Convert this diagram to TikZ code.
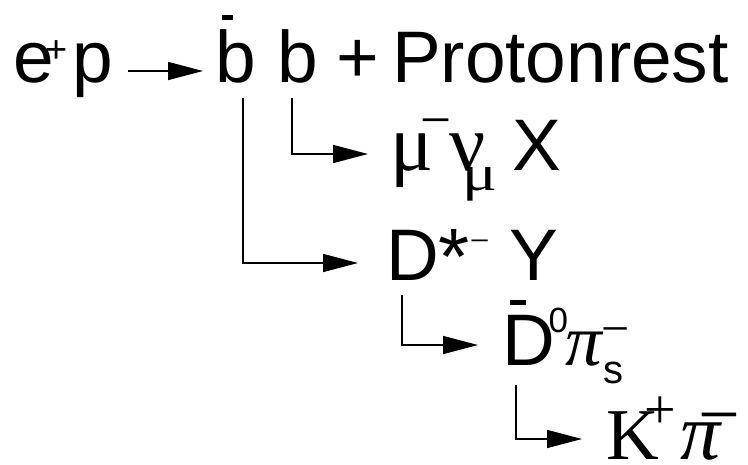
\documentclass[tikz,border=0pt]{standalone}
\usepackage{fontspec}
\setmainfont{Liberation Sans}
\newfontfamily\grk{Liberation Serif}
\usepackage{graphicx}
\usepackage{tikz}
\usetikzlibrary{arrows.meta}
\newcommand{\fsz}[1]{\fontsize{#1}{#1}\selectfont}
\newcommand{\rsup}[3]{\raisebox{#2}{\fsz{#1}#3}}

\begin{document}
\begin{tikzpicture}[x=1pt, y=-1pt,
    every node/.style={font=\fsz{73pt}, inner sep=0pt, outer sep=0pt,
                       anchor=base west},
    arr/.style={-{Triangle[length=35pt, width=18pt]}, line width=1.6pt}]
  \useasboundingbox (0,0) rectangle (748,464);
  % first line
  \node (ep)   at (13,82)    {e\kern-8pt\rsup{38pt}{20pt}{+}\kern5pt p};
  \node (bbar) at (215,82)   {\rlap{\kern7pt\rule[62pt]{11pt}{5pt}}b};
  \node (bq)   at (277,82)   {b};
  \node (plus) at (336.5,82) {+};
  \node (rest) at (392,82)   {Protonrest};
  % decays
  \node (mu)   at (390,170)  {{\grk\fsz{80pt}μ}\kern-12.7pt\rsup{55pt}{32pt}{\grk −}};
  \node (nu)   at (449,170)  {{\grk\fsz{80pt}ν}\kern-23pt\raisebox{-20pt}{\scalebox{1.3}[1]{\grk\fsz{50pt}μ}}};
  \node (xx)   at (512.5,170) {X};
  \node (dst)  at (386,280)  {D\raisebox{-4pt}{\fsz{80pt}*}\rsup{35pt}{28pt}{\grk −}};
  \node (yy)   at (509,280)  {Y};
  \node (dbar) at (502,365)  {\rlap{\kern8pt\rule[60pt]{16pt}{5pt}}D\kern-6pt\rsup{35pt}{33pt}{0}};
  \node (pis)  at (565,365)  {{\grk\itshape π}\rlap{\rsup{50pt}{19.5pt}{\grk −}}\kern2pt\raisebox{-18pt}{\fsz{40pt}s}};
  \node[text depth=0pt] (kk)  at (606.5,459) {{\grk K}\kern-15pt\rsup{56pt}{31pt}{\grk +}};
  \node[text depth=0pt] (pik) at (680,459)   {{\grk\itshape\fsz{80pt}π}\kern-21.5pt\rsup{74pt}{19.5pt}{\grk −}};
  % arrows
  \draw[arr] ([shift={(115pt,11pt)}]ep.base west) -- ([shift={(-12pt,11pt)}]bbar.base west);
  \draw[arr] ([shift={(15pt,-16pt)}]bq.base west) |- ([shift={(-22pt,16pt)}]mu.base west);
  \draw[arr] ([shift={(28pt,-16pt)}]bbar.base west) |- ([shift={(-28pt,17pt)}]dst.base west);
  \draw[arr] ([shift={(16pt,-15pt)}]dst.base west) |- ([shift={(-24pt,20pt)}]dbar.base west);
  \draw[arr] ([shift={(14pt,-20pt)}]dbar.base west) |- ([shift={(-24.5pt,20pt)}]kk.base west);
\end{tikzpicture}
\end{document}
